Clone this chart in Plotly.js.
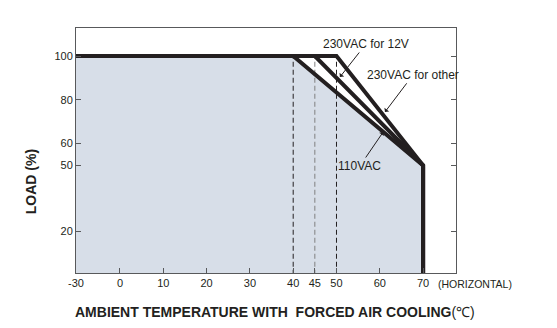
<!DOCTYPE html>
<html>
<head>
<meta charset="utf-8">
<script src="https://cdn.plot.ly/plotly-3.0.1.min.js"></script>
<style>html,body{margin:0;padding:0;background:#fff;}#chart{width:557px;height:328px;}</style>
</head>
<body>
<div id="chart"></div>
<script>
// ---- data ----
const curveNames = ["110VAC", "230VAC for other", "230VAC for 12V"];
const deratingStart = [40, 45, 50];          // temperature where derating begins (°C)
const fullLoad = 100;                          // % load
const endTemp = 70;                            // °C
const endLoad = 50;                            // % load at 70 °C
const minTemp = -30;
const dashedTemps = [40, 45, 50];
const xTickVals = [0, 10, 20, 30, 40, 45, 50, 60, 70];
const xTickLabels = ["0", "10", "20", "30", "40", "45", "50", "60", "70"];
const yTickVals = [20, 50, 60, 80, 100];
const yTickLabels = ["20", "50", "60", "80", "100"];

// ---- styling ----
const ink = "#231f20";
const axisCol = "#58595b";
const fillCol = "#d7dee8";
const font = "Liberation Sans, Arial, sans-serif";
const xStart = -10.16;   // left edge of the (broken) axis, labelled -30

const traces = [];
// shaded area under the 110VAC curve
traces.push({
  x: [minTemp, deratingStart[0], endTemp, endTemp],
  y: [fullLoad, fullLoad, endLoad, 0],
  type: "scatter", mode: "lines", fill: "tozeroy",
  fillcolor: fillCol, line: {width: 0}, hoverinfo: "skip", showlegend: false
});
// dashed verticals
dashedTemps.forEach((t, i) => {
  traces.push({
    x: [t, t], y: [0, fullLoad], type: "scatter", mode: "lines",
    line: {color: i === 1 ? "#7f7f7f" : ink, width: 1, dash: "5px,3px"},
    showlegend: false, hoverinfo: "skip"
  });
});
// derating curves
deratingStart.forEach((t, i) => {
  traces.push({
    name: curveNames[i],
    x: [minTemp, t, endTemp, endTemp],
    y: [fullLoad, fullLoad, endLoad, 0],
    type: "scatter", mode: "lines",
    line: {color: ink, width: 4},
    showlegend: false
  });
});

const annFont = {family: font, size: 12, color: ink};
const layout = {
  width: 557, height: 328,
  margin: {l: 76, r: 101, t: 28, b: 55, pad: 0},
  paper_bgcolor: "#fff", plot_bgcolor: "#fff",
  showlegend: false,
  font: {family: font, color: ink},
  xaxis: {
    range: [xStart, 77.6],
    tickvals: [xStart].concat(xTickVals),
    ticktext: [String(minTemp)].concat(xTickLabels),
    ticks: "inside", ticklen: 5, tickcolor: axisCol, tickwidth: 1,
    showline: true, linecolor: axisCol, linewidth: 1, mirror: true,
    showgrid: false, zeroline: false,
    tickfont: {family: font, size: 11, color: ink}
  },
  yaxis: {
    range: [0.8, 112.8],
    tickvals: yTickVals, ticktext: yTickLabels,
    ticks: "inside", ticklen: 5, tickcolor: axisCol, tickwidth: 1,
    showline: true, linecolor: axisCol, linewidth: 1, mirror: "ticks",
    showgrid: false, zeroline: false,
    tickfont: {family: font, size: 11, color: ink}
  },
  annotations: [
    {x: 50.8, y: 90.4, ax: 56.8, ay: 105.5, axref: "x", ayref: "y", xref: "x", yref: "y",
     text: curveNames[2], showarrow: true, arrowhead: 1, arrowsize: 1, arrowwidth: 1, arrowcolor: ink, font: annFont},
    {x: 61.2, y: 74.4, ax: 67.7, ay: 91.4, axref: "x", ayref: "y", xref: "x", yref: "y",
     text: curveNames[1], showarrow: true, arrowhead: 1, arrowsize: 1, arrowwidth: 1, arrowcolor: ink, font: annFont},
    {x: 60.8, y: 65.3, ax: 55.4, ay: 49.7, axref: "x", ayref: "y", xref: "x", yref: "y",
     text: curveNames[0], showarrow: true, arrowhead: 1, arrowsize: 1, arrowwidth: 1, arrowcolor: ink, font: annFont},
    {x: 1.05, y: -0.045, xref: "paper", yref: "paper", xanchor: "center", yanchor: "middle",
     text: "(HORIZONTAL)", showarrow: false, font: {family: font, size: 10.5, color: ink}},
    {x: 0.5237, y: -0.159, xref: "paper", yref: "paper", xanchor: "center", yanchor: "middle",
     text: "<b>AMBIENT TEMPERATURE WITH  FORCED AIR COOLING</b>(℃)", showarrow: false,
     font: {family: font, size: 14, color: ink}},
    {x: -0.118, y: 0.371, xref: "paper", yref: "paper", xanchor: "center", yanchor: "middle",
     text: "<b>LOAD (%)</b>", textangle: -90, showarrow: false,
     font: {family: font, size: 14, color: ink}}
  ]
};

Plotly.newPlot("chart", traces, layout, {staticPlot: true, displayModeBar: false});
</script>
</body>
</html>
